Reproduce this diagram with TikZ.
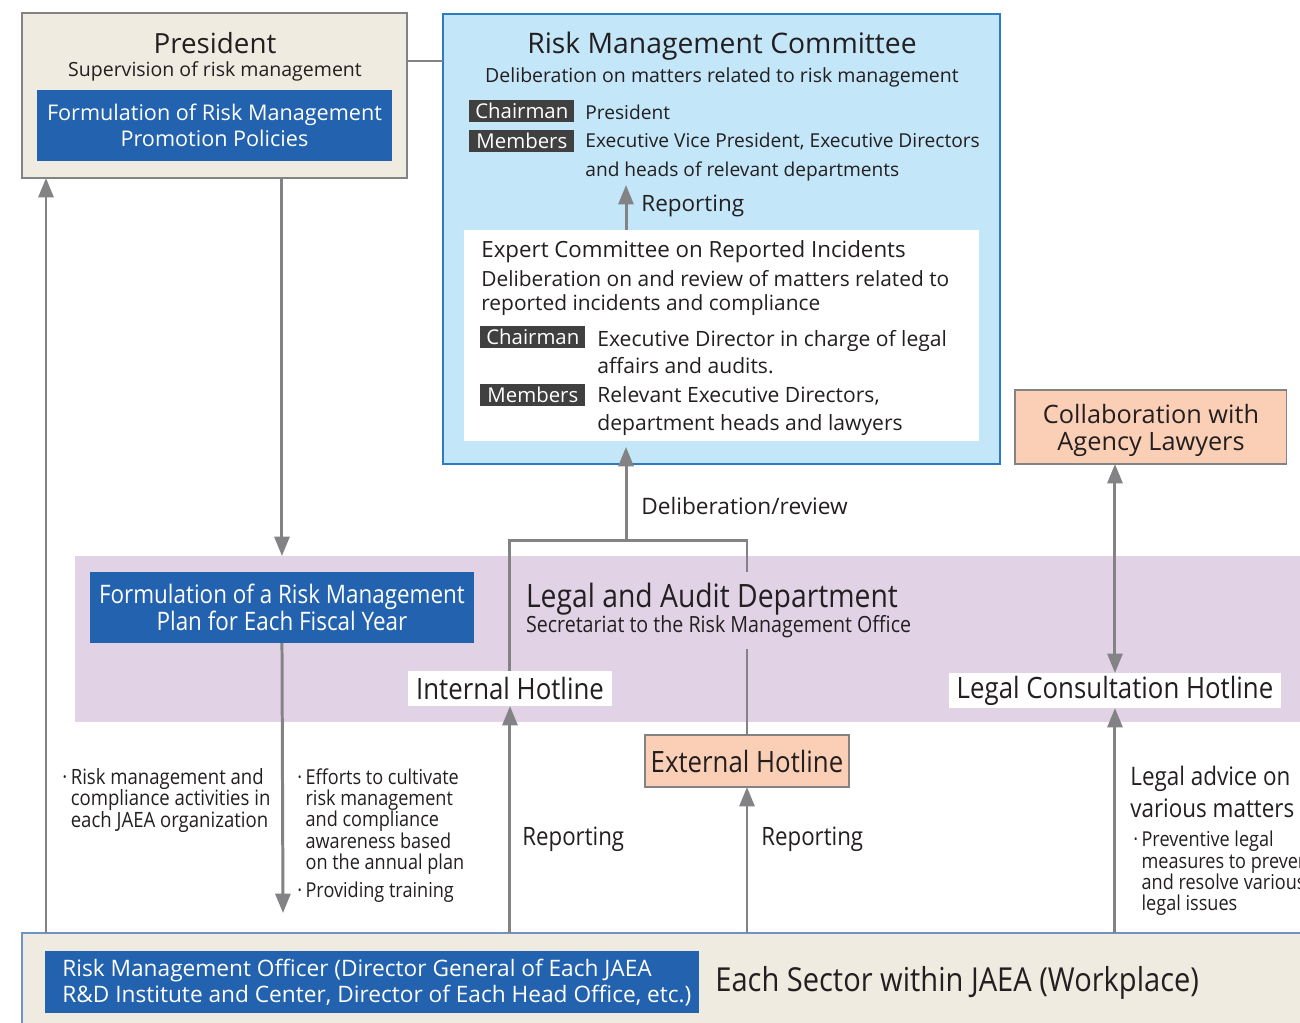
\documentclass[tikz,border=0pt]{standalone}
\usepackage{fontspec}
\setmainfont{Open Sans}
\newfontfamily\narrowfont[FakeStretch=0.88]{Open Sans}
\usetikzlibrary{arrows.meta, positioning, calc}

\definecolor{inkgray}{HTML}{231F20}
\definecolor{linegray}{HTML}{838386}
\definecolor{beige}{HTML}{EFEBE1}
\definecolor{jaeablue}{HTML}{2262AE}
\definecolor{skyblue}{HTML}{C3E6F8}
\definecolor{rimblue}{HTML}{2B7CC4}
\definecolor{sectorrim}{HTML}{6F93C4}
\definecolor{bandpurple}{HTML}{E2D2E6}
\definecolor{peach}{HTML}{FBCFB6}
\definecolor{tagdark}{HTML}{404040}

\newcommand{\fsz}[2]{\fontsize{#1}{#2}\selectfont}

\tikzset{
  flow/.style={draw=linegray, line width=1.7pt},
  arrowline/.style={flow, -{Triangle[width=8.5pt,length=11pt]}},
  pane/.style={anchor=north west, inner sep=0pt, outer sep=0pt},
  bluebox/.style={pane, fill=jaeablue, text=white, align=center},
  tag/.style={anchor=west, fill=tagdark, text=white, inner sep=0pt,
    minimum width=2.1cm, minimum height=0.45cm, font=\fsz{11.6}{12}},
  hotline/.style={pane, fill=white, text=inkgray, font=\narrowfont\fsz{16.7}{18}},
  peachbox/.style={pane, fill=peach, draw=linegray, line width=0.6pt, text=inkgray},
  note/.style={anchor=west, inner sep=0pt, text=inkgray, align=left}
}

\begin{document}
\begin{tikzpicture}[x=0.02cm, y=-0.02cm]
    \useasboundingbox (0,0) rectangle (1300,1022);

    % President
    \node[pane, fill=beige, draw=linegray, line width=1.4pt,
      minimum width=7.7cm, minimum height=3.3cm] (pres) at (22,13) {};
    \node[text=inkgray, font=\fsz{15.8}{18}] (prestitle) at (215,43) {President};
    \node[text=inkgray, font=\fsz{11.1}{12}] (presnote) at (215,71) {Supervision of risk management};
    \node[bluebox, minimum width=7.1cm, minimum height=1.42cm, font=\fsz{12.3}{14.8}]
      (policy) at (37,90) {Formulation of Risk Management\\Promotion Policies};

    % Risk Management Committee
    \node[pane, fill=skyblue, draw=rimblue, line width=1.2pt,
      minimum width=11.14cm, minimum height=9cm] (rmc) at (443,14) {};
    \node[text=inkgray, font=\fsz{16.1}{18}] (rmctitle) at (722,46) {Risk Management Committee};
    \node[text=inkgray, font=\fsz{11.1}{12}] (rmcnote) at (722,77)
      {Deliberation on matters related to risk management};
    \node[tag] (rmcchair) at (469,111) {Chairman};
    \node[note, font=\fsz{10.9}{16.5}] (rmcchairtext) at (585,112) {President};
    \node[tag] (rmcmem) at (469,141) {Members};
    \node[note, font=\fsz{10.9}{16.5}] (rmcmemtext) at (585,157)
      {Executive Vice President, Executive Directors\\and heads of relevant departments};

    % Expert committee inside
    \node[pane, fill=white, minimum width=10.3cm, minimum height=4.22cm] (expert) at (464,230) {};
    \node[note, font=\fsz{12.7}{14}] (experttitle) at (481,252) {Expert Committee on Reported Incidents};
    \node[note, font=\fsz{11.9}{13.7}] (expertnote) at (481,293)
      {Deliberation on and review of matters related to\\reported incidents and compliance};
    \node[tag] (expchair) at (480,337) {Chairman};
    \node[note, font=\fsz{12}{15.4}] (expchairtext) at (597,352)
      {Executive Director in charge of legal\\affairs and audits.};
    \node[tag] (expmem) at (480,395) {Members};
    \node[note, font=\fsz{12}{15.4}] (expmemtext) at (597,411)
      {Relevant Executive Directors,\\department heads and lawyers};

    \coordinate (repup) at (626,185);
    \draw[arrowline] (expert.north -| repup) -- (repup);
    \node[note, font=\fsz{12.8}{14}] (replabel) at (641,206) {Reporting};

    % link president - committee
    \coordinate (link) at (425,61);
    \draw[flow] (pres.east |- link) -- (rmc.west |- link);

    % Lawyers
    \node[peachbox, minimum width=5.44cm, minimum height=1.48cm] (collab) at (1015,390) {};
    \node[align=center, inner sep=0pt, text=inkgray, font=\fsz{14.4}{15.4}]
      (collabtext) at (1151,430) {Collaboration with\\Agency Lawyers};

    % Legal and Audit Department band
    \node[pane, fill=bandpurple, minimum width=24.6cm, minimum height=3.32cm] (band) at (75,556) {};
    \node[bluebox, minimum width=7.68cm, minimum height=1.42cm, font=\narrowfont\fsz{14.5}{15.4}]
      (plan) at (90,572) {Formulation of a Risk Management\\Plan for Each Fiscal Year};
    \node[hotline, minimum width=4.08cm, minimum height=0.7cm] (inthot) at (408,671) {Internal Hotline};
    \node[hotline, minimum width=6.64cm, minimum height=0.7cm] (legalhot) at (949,673) {Legal Consultation Hotline};
    \node[peachbox, minimum width=4.08cm, minimum height=1.04cm, font=\narrowfont\fsz{16.7}{18}]
      (exthot) at (645,735) {External Hotline};

    % hotline routes to the expert committee
    \coordinate (fork) at (626,540);
    \draw[flow] (inthot.north) |- (exthot.north |- fork) -- (exthot.north);
    \draw[arrowline, shorten >=-0.34cm] (fork) -- (rmc.south -| fork);
    \node[note, font=\fsz{12.9}{14}] (delib) at (641,506) {Deliberation/review};

    \node[pane, fill=bandpurple, minimum width=7.9cm, minimum height=1.54cm,
      inner xsep=0.12cm, align=left, text=inkgray, font=\narrowfont\fsz{12.7}{14.5}]
      (legaldept) at (520,572)
      {{\fsz{18.3}{14.5}Legal and Audit Department}\\
       Secretariat to the Risk Management Office};

    % Workplace
    \node[pane, fill=beige, draw=sectorrim, line width=0.8pt,
      minimum width=26cm, minimum height=2cm] (sector) at (22,933) {};
    \node[bluebox, minimum width=13.08cm, minimum height=1.24cm] (officer) at (45,951) {};
    \node[note, text=white, font=\fsz{12.9}{14.8}] (officertext) at (62,983)
      {Risk Management Officer (Director General of Each JAEA\\R\&D Institute and Center, Director of Each Head Office, etc.)};
    \node[note, font=\narrowfont\fsz{18.8}{20}] (sectorname) at (715,983)
      {Each Sector within JAEA (Workplace)};

    % arrows
    \draw[arrowline] (pres.south -| plan.north) -- (band.north -| plan.north);
    \coordinate (plantip) at (283,913);
    \draw[arrowline] (plan.south) -- (plantip);
    \coordinate (leftrise) at (46,933);
    \draw[arrowline] (leftrise) -- (pres.south -| leftrise);
    \draw[arrowline] (sector.north -| inthot.south) -- (inthot.south);
    \draw[arrowline] (sector.north -| exthot.south) -- (exthot.south);
    \draw[arrowline] (sector.north -| legalhot.south) -- (legalhot.south);
    \draw[flow, {Triangle[width=8.5pt,length=11pt]}-{Triangle[width=8.5pt,length=11pt]}]
      (collab.south -| legalhot.north) -- (legalhot.north);

    % notes along the arrows
    \node[note, anchor=north west, font=\narrowfont\fsz{12}{12.2}] (orgnote) at (62,768)
      {·\,Risk management and\\\phantom{·\,}compliance activities in\\\phantom{·\,}each JAEA organization};
    \node[note, anchor=north west, font=\narrowfont\fsz{11.7}{12.2}] (effortnote) at (297,768)
      {·\,Efforts to cultivate\\\phantom{·\,}risk management\\\phantom{·\,}and compliance\\\phantom{·\,}awareness based\\\phantom{·\,}on the annual plan};
    \node[note, anchor=north west, font=\narrowfont\fsz{11.7}{12.2}] (trainnote) at (297,882)
      {·\,Providing training};
    \node[note, font=\narrowfont\fsz{14.4}{16}] (repint) at (522,839) {Reporting};
    \node[note, font=\narrowfont\fsz{14.4}{16}] (repext) at (761,839) {Reporting};
    \node[note, anchor=north west, font=\narrowfont\fsz{14.5}{18.2}] (advice) at (1130,766)
      {Legal advice on\\various matters};
    \node[note, anchor=north west, font=\narrowfont\fsz{11.7}{12}] (advicenote) at (1133,831)
      {·\,Preventive legal\\\phantom{·\,}measures to prevent\\\phantom{·\,}and resolve various\\\phantom{·\,}legal issues};
\end{tikzpicture}
\end{document}
